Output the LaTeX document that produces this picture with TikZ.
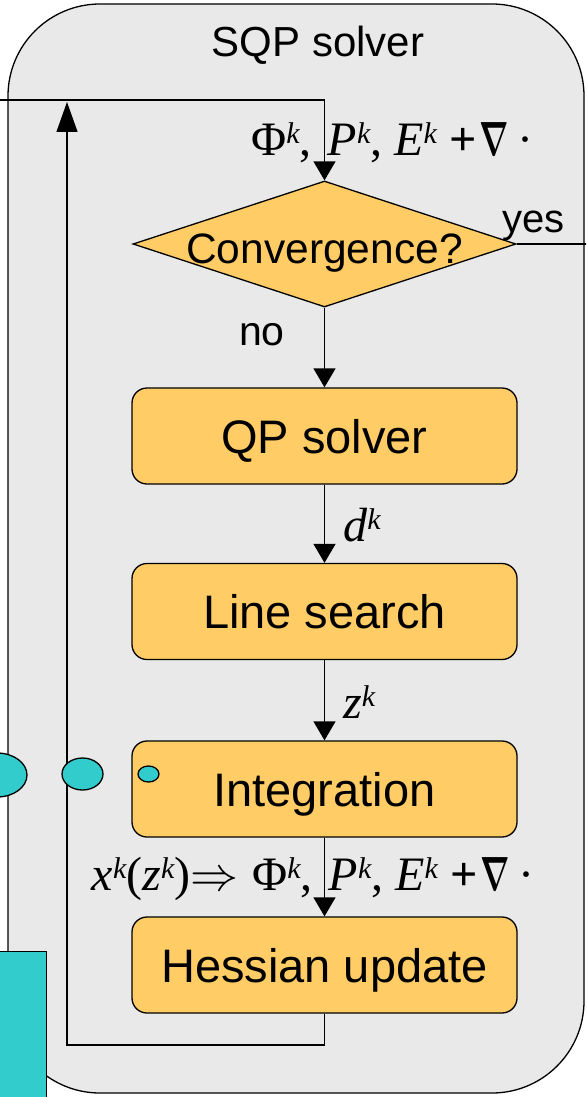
\documentclass[tikz,border=0pt]{standalone}
\usepackage{fix-cm}
\usepackage{graphicx}
\usepackage{fontspec}
\setmainfont{Liberation Sans}
\newfontfamily\tms{Liberation Serif}
\usetikzlibrary{shapes.geometric,arrows.meta}

\definecolor{panel}{HTML}{E9E9E9}
\definecolor{stage}{HTML}{FFCC66}
\definecolor{marker}{HTML}{33CCCC}

% raised italic iteration index
\newcommand\sk{\raisebox{12pt}{\fontsize{30}{30}\selectfont\itshape k}}
% quantities passed between the solver stages
\newcommand\flowvars{Φ\sk,\hspace{16pt}\textit{P}\sk, \textit{E}\sk\ \textbf{+}\hspace{3pt}\scalebox{0.64}[1]{\boldmath$\nabla$}\hspace{9pt}·}

\tikzset{
  stagebox/.style={draw, fill=stage, rounded corners=15pt, line width=1.3pt,
    minimum width=385pt, minimum height=96pt, inner sep=0pt,
    text height=34pt, text depth=0pt, font=\fontsize{47}{50}\selectfont},
  flow/.style={line width=1.3pt, -{Triangle[length=19pt,width=22pt]}},
  wire/.style={line width=1.3pt},
  mathlbl/.style={inner sep=0pt, font=\tms\fontsize{48}{50}\selectfont},
  plain/.style={inner sep=0pt, font=\fontsize{41}{44}\selectfont},
  blob/.style={draw, fill=marker, line width=1.3pt, inner sep=0pt},
}

\begin{document}
\begin{tikzpicture}[x=1pt,y=-1pt]
\useasboundingbox (0,0) rectangle (586,1097);
\fill[white] (0,0) rectangle (586,1097);
\clip (0,0) rectangle (586,1097);

% solver panel
\draw[fill=panel, line width=1.3pt, rounded corners=92pt] (8,4) rectangle (584,1093);
\node[plain, font=\fontsize{42}{44}\selectfont, anchor=base] (title) at (318,57) {SQP solver};

% stages
\node[diamond, draw, fill=stage, line width=1.3pt, minimum width=383pt,
  minimum height=126pt, inner sep=0pt, font=\fontsize{42.5}{44}\selectfont,
  text height=30pt, text depth=0pt] (conv) at (324.5,244)
  {\makebox[0pt]{\raisebox{-4pt}{Convergence?}}};
\node[stagebox] (qp) at (324.5,436) {QP solver};
\node[stagebox] (ls) at (324.5,611.5) {Line search};
\node[stagebox] (integ) at (324.5,789) {Integration};
\node[stagebox] (hess) at (324.5,965) {Hessian update};

% connectors
\coordinate (feed) at (0,100);
\coordinate (feedturn) at (324.5,100);
\draw[flow] (feed) -- (feedturn) -- (conv.north);
\draw[flow] (conv.south) -- (qp.north);
\draw[flow] (qp.south) -- (ls.north);
\draw[flow] (ls.south) -- (integ.north);
\draw[flow] (integ.south) -- (hess.north);
\coordinate (exit) at (590,244);
\draw[wire] (conv.east) -- (exit);
\coordinate (loopa) at (324.5,1045);
\coordinate (loopb) at (67,1045);
\coordinate (looptop) at (67,102);
\draw[line width=1.3pt, -{Triangle[length=30pt,width=21pt]}]
  (hess.south) -- (loopa) -- (loopb) -- (looptop);

% labels
\node[plain, anchor=base west] (no) at (239,345) {no};
\node[plain, font=\fontsize{40}{44}\selectfont, anchor=base west] (yes) at (502,232) {yes};
\node[mathlbl, anchor=base east] (vars1) at (534,155) {\flowvars};
\node[mathlbl, anchor=base west] (dk) at (343,541) {\textit{d}\sk};
\node[mathlbl, anchor=base west] (zk) at (343,718) {\textit{z}\sk};
\node[mathlbl, anchor=base east] (vars2) at (535,890)
  {\textit{x}\sk(\textit{z}\sk)$\Rightarrow$\hspace{14pt}\flowvars};

% cyan markers
\node[blob, ellipse, minimum width=60pt, minimum height=44pt] (m1) at (-3,775) {};
\node[blob, ellipse, minimum width=41pt, minimum height=32pt] (m2) at (82.5,774) {};
\node[blob, ellipse, minimum width=21pt, minimum height=16pt] (m3) at (148.5,774) {};
\node[blob, rectangle, anchor=north east, minimum width=62pt, minimum height=152pt] (m4) at (47,951) {};
\end{tikzpicture}
\end{document}
